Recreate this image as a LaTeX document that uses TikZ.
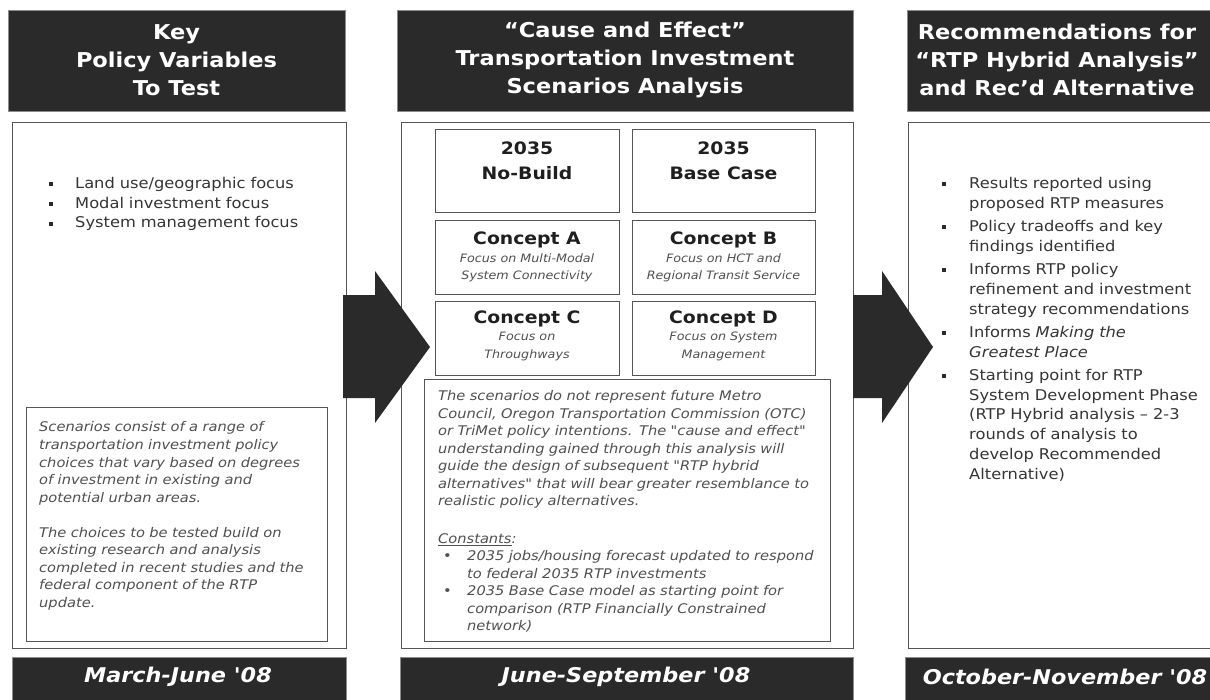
\documentclass[tikz,border=0pt]{standalone}
\usepackage{fontspec}
\setmainfont[FakeStretch=1.1, Ligatures=TeXOff,
  BoldFont={DejaVu Sans Bold},
  ItalicFont={DejaVu Sans Oblique},
  BoldItalicFont={DejaVu Sans Bold Oblique}]{DejaVu Sans}
\definecolor{dark}{HTML}{2A2A2A}
\definecolor{txt}{HTML}{353535}
\definecolor{itx}{HTML}{505050}
\definecolor{edge}{HTML}{555555}
\newcommand\sqbul{\textcolor{dark}{\rule[2.2pt]{4pt}{4pt}}}
\newcommand\sqitem[2]{\hangindent=#1\hangafter=1\noindent\makebox[#1][l]{\sqbul}#2\par}
\newcommand\rditem[1]{\hangindent=29pt\hangafter=1\noindent\hspace*{5pt}\makebox[24pt][l]{\upshape •}#1\par}
\tikzset{
  boxat/.style args={#1/#2}{minimum width=#1, minimum height=#2, anchor=north west, inner sep=0pt},
  hdr/.style={fill=dark, draw=black!45, line width=0.6pt},
  panel/.style={draw=edge, line width=1.4pt},
  inbox/.style={draw=edge, line width=1.2pt},
  htext/.style={text=white, font=\bfseries\fontsize{20.45}{28}\selectfont, align=center, inner sep=0pt},
  ftext/.style={text=white, font=\bfseries\itshape\fontsize{20.3}{22}\selectfont, inner sep=0pt},
  ttl/.style={text=black!88, font=\bfseries\fontsize{17.1}{25}\selectfont, align=center, inner sep=0pt},
  sub/.style={text=itx, font=\itshape\fontsize{11.55}{17.3}\selectfont, align=center, inner sep=0pt},
  itxt/.style={text=itx, font=\itshape\fontsize{13.3}{17.6}\selectfont, inner sep=0pt},
  btxt/.style={text=txt, font=\fontsize{14.8}{19.7}\selectfont, inner sep=0pt},
  blockarrow/.style={fill=dark}
}
\begin{document}
\begin{tikzpicture}[x=1pt,y=-1pt]
\useasboundingbox (0,0) rectangle (1210,699);
\clip (0,0) rectangle (1210,699);
\fill[white] (0,0) rectangle (1210,699);

% headers
\node[hdr, boxat={337pt/101pt}] (h1) at (8,10) {};
\node[hdr, boxat={456pt/101pt}] (h2) at (397,10) {};
\node[hdr, boxat={330pt/101pt}] (h3) at (907,10) {};
\node[htext] (h1t) at (176.5,60) {Key\\Policy Variables\\To Test};
\node[htext] (h2t) at (625,60) {“Cause and Effect”\\Transportation Investment\\Scenarios Analysis};
\node[htext] (h3t) at (1057,60) {Recommendations for\\“RTP Hybrid Analysis”\\and Rec’d Alternative};

% panels
\node[panel, boxat={334pt/526pt}] (lp) at (12,122) {};
\node[panel, boxat={452pt/526pt}] (mp) at (401,122) {};
\node[panel, boxat={330pt/526pt}] (rp) at (908,122) {};

% left panel
\node[btxt, anchor=north west, text width=300pt] (llist) at (49,177) {%
\sqitem{26pt}{Land use/geographic focus}%
\sqitem{26pt}{Modal investment focus}%
\sqitem{26pt}{System management focus}};
\node[inbox, boxat={301pt/234pt}] (lb) at (26,407) {};
\node[itxt, anchor=north west, text width=292pt] (lbt) at (39,421.5) {\noindent
Scenarios consist of a range of\newline
transportation investment policy\newline
choices that vary based on degrees\newline
of investment in existing and\newline
potential urban areas.\par
\vskip 17.3pt
\noindent The choices to be tested build on\newline
existing research and analysis\newline
completed in recent studies and the\newline
federal component of the RTP\newline
update.};

% middle panel grid
\node[inbox, boxat={184pt/83pt}] (nb) at (435,129) {};
\node[inbox, boxat={183pt/83pt}] (bc) at (632,129) {};
\node[inbox, boxat={184pt/74pt}] (ca) at (435,220) {};
\node[inbox, boxat={183pt/74pt}] (cb) at (632,220) {};
\node[inbox, boxat={184pt/74pt}] (cc) at (435,301) {};
\node[inbox, boxat={183pt/74pt}] (cd) at (632,301) {};
\node[ttl] (nbt) at (527,160.5) {2035\\No-Build};
\node[ttl] (bct) at (723.5,160.5) {2035\\Base Case};
\node[ttl] (cat) at (527,240) {Concept A};
\node[ttl] (cbt) at (723.5,240) {Concept B};
\node[ttl] (cct) at (527,319) {Concept C};
\node[ttl] (cdt) at (723.5,319) {Concept D};
\node[sub] (cas) at (527,268) {Focus on Multi-Modal\\System Connectivity};
\node[sub] (cbs) at (723.5,268) {Focus on HCT and\\Regional Transit Service};
\node[sub] (ccs) at (527,346.5) {Focus on\\Throughways};
\node[sub] (cds) at (723.5,346.5) {Focus on System\\Management};

\node[inbox, boxat={406pt/262pt}] (tb) at (424,379) {};
\node[itxt, anchor=north west, text width=392pt, font=\itshape\fontsize{13.3}{17.45}\selectfont] (tbt) at (438,390.5) {\noindent
The scenarios do not represent future Metro\newline
Council, Oregon Transportation Commission (OTC)\newline
or TriMet policy intentions. The "cause and effect"\newline
understanding gained through this analysis will\newline
guide the design of subsequent "RTP hybrid\newline
alternatives" that will bear greater resemblance to\newline
realistic policy alternatives.\par
\vskip 20.5pt
\noindent\underline{Constants}:\par
\rditem{2035 jobs/housing forecast updated to respond\newline to federal 2035 RTP investments}%
\rditem{2035 Base Case model as starting point for\newline comparison (RTP Financially Constrained\newline network)}};

% right panel
\node[btxt, anchor=north west, text width=262pt] (rlist) at (942,177) {%
\sqitem{27pt}{Results reported using\newline proposed RTP measures}\vskip3.7pt
\sqitem{27pt}{Policy tradeoffs and key\newline findings identified}\vskip3.7pt
\sqitem{27pt}{Informs RTP policy\newline refinement and investment\newline strategy recommendations}\vskip3.7pt
\sqitem{27pt}{Informs \textit{Making the}\newline \textit{Greatest Place}}\vskip3.7pt
\sqitem{27pt}{Starting point for RTP\newline System Development Phase\newline (RTP Hybrid analysis – 2-3\newline rounds of analysis to\newline develop Recommended\newline Alternative)}};

% block arrows
\fill[blockarrow] (343,295) -- (375,295) -- (375,271) -- (430,347) -- (375,423) -- (375,398) -- (343,398) -- cycle;
\fill[blockarrow] (853,295) -- (882,295) -- (882,271) -- (933,347) -- (882,423) -- (882,398) -- (853,398) -- cycle;

% footers
\node[hdr, boxat={334pt/50pt}] (f1) at (12,657) {};
\node[hdr, boxat={453pt/50pt}] (f2) at (400,657) {};
\node[hdr, boxat={330pt/50pt}] (f3) at (905,657) {};
\node[ftext] (f1t) at (178,677) {March-June '08};
\node[ftext] (f2t) at (626,677) {June-September '08};
\node[ftext] (f3t) at (1065,677) {October-November '08};
\end{tikzpicture}
\end{document}
